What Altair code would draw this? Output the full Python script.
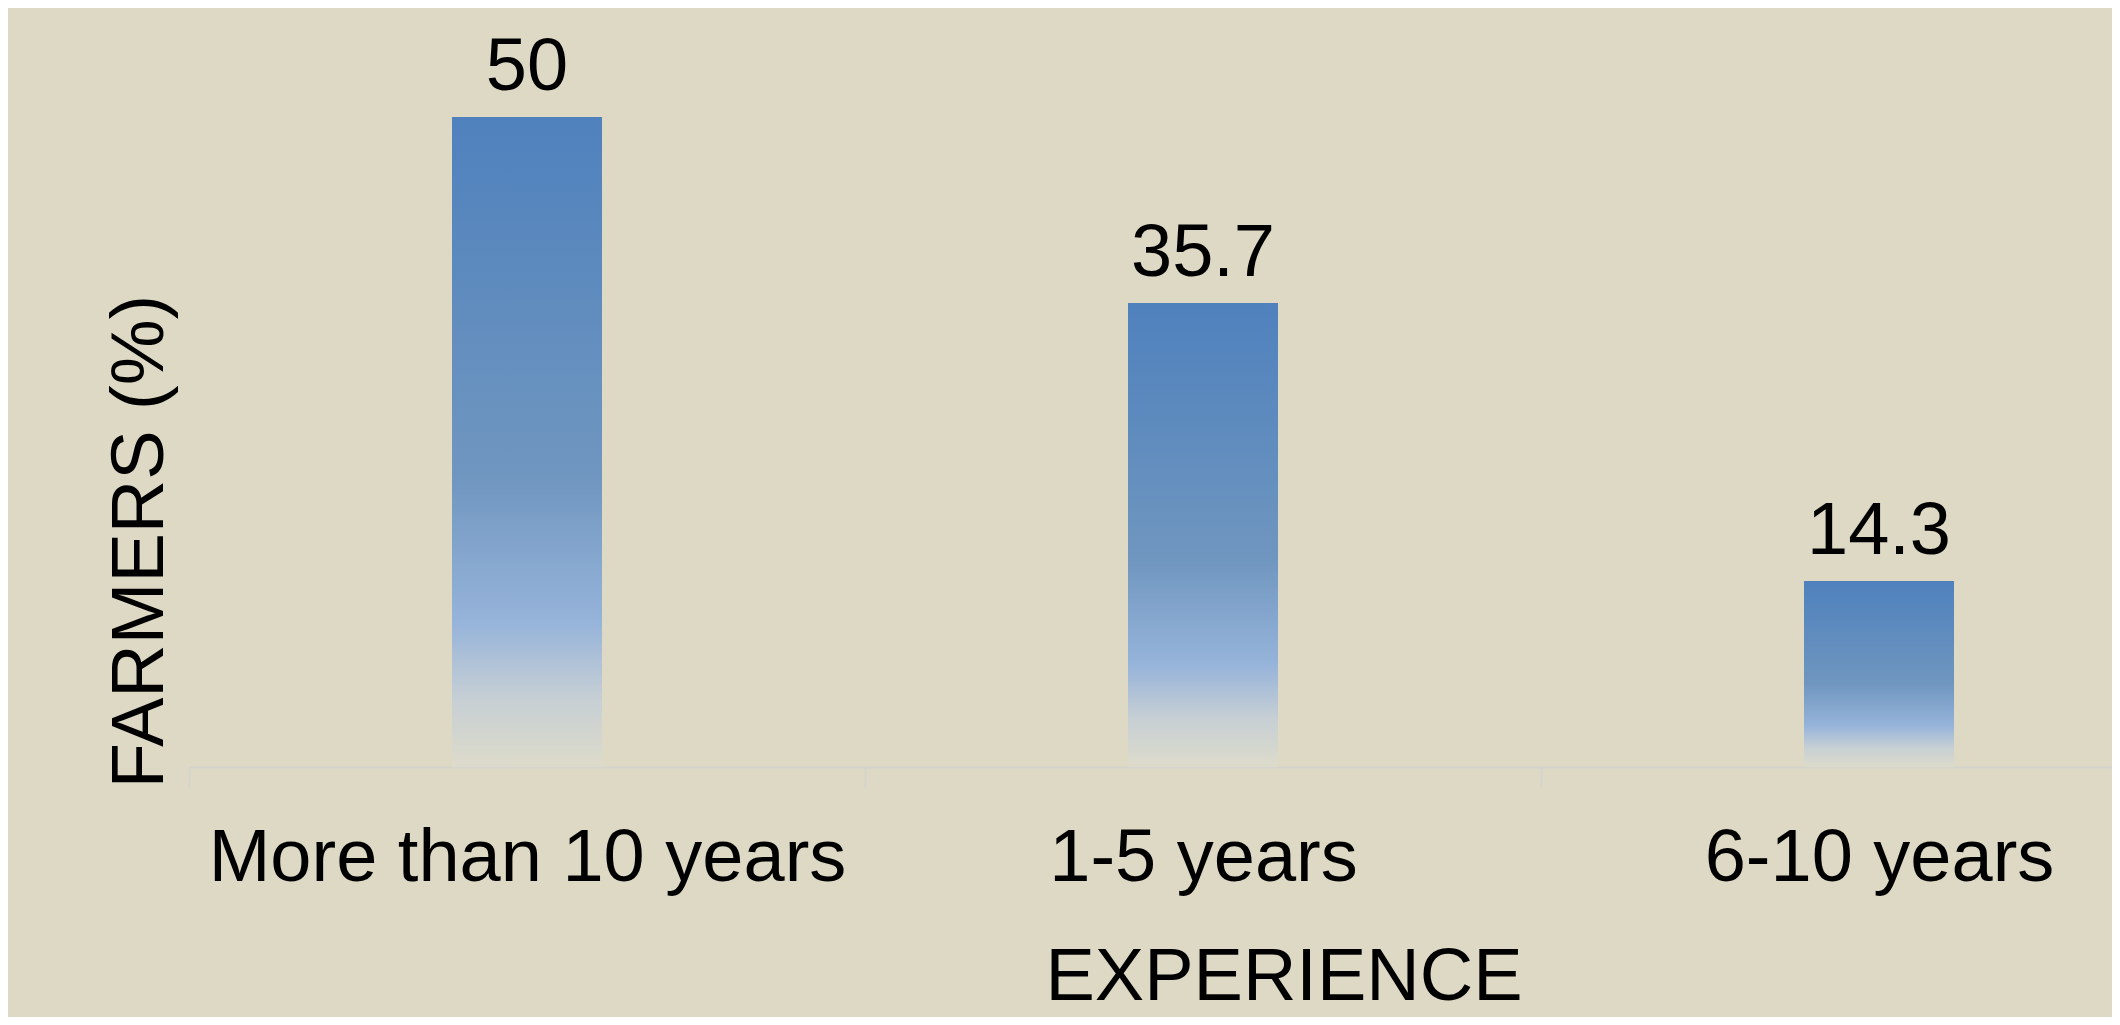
import altair as alt
import pandas as pd

categories = ["More than 10 years", "1-5 years", "6-10 years"]
values = [50, 35.7, 14.3]
labels = ["50", "35.7", "14.3"]

df = pd.DataFrame({"experience": categories, "farmers": values, "label": labels})

FONT = "Liberation Sans"
AXIS_COLOR = "#d4d4cc"

x_enc = alt.X(
    "experience:N",
    sort=categories,
    scale=alt.Scale(range=[0, 2028], paddingInner=0, paddingOuter=0),
    axis=alt.Axis(
        title="EXPERIENCE",
        titleFont=FONT,
        titleFontSize=74,
        titleFontWeight="normal",
        titleColor="#000000",
        titleAlign="left",
        titleBaseline="alphabetic",
        titleX=856,
        titleY=232,
        labelFont=FONT,
        labelFontSize=74,
        labelColor="#000000",
        labelAngle=0,
        labelBaseline="alphabetic",
        labelPadding=93,
        labelOverlap=False,
        labelLimit=0,
        domainColor=AXIS_COLOR,
        domainWidth=2,
        tickColor=AXIS_COLOR,
        tickWidth=2,
        tickSize=20,
        tickBand="extent",
        grid=False,
    ),
)

y_enc = alt.Y(
    "farmers:Q",
    scale=alt.Scale(domain=[0, 54], nice=False, zero=True),
    axis=alt.Axis(
        title="FARMERS (%)",
        titleFont=FONT,
        titleFontSize=74,
        titleFontWeight="normal",
        titleColor="#000000",
        titleAngle=270,
        titleAlign="center",
        titleBaseline="alphabetic",
        titleX=-27,
        titleY=476,
        labels=False,
        ticks=False,
        domain=False,
        grid=False,
    ),
)

gradient = alt.Gradient(
    gradient="linear",
    stops=[
        alt.GradientStop(color="#4f81bd", offset=0),
        alt.GradientStop(color="#6f96bf", offset=0.55),
        alt.GradientStop(color="#97b4da", offset=0.78),
        alt.GradientStop(color="#c8d0d4", offset=0.9),
        alt.GradientStop(color="#dddbcb", offset=1),
    ],
    x1=0, x2=0, y1=0, y2=1,
)

bars = alt.Chart(df).mark_bar(color=gradient, width=150).encode(x=x_enc, y=y_enc)

text = alt.Chart(df).mark_text(
    font=FONT, fontSize=74, color="#000000", baseline="alphabetic", dy=-27
).encode(x=alt.X("experience:N", sort=categories), y="farmers:Q", text="label:N")

chart = (
    alt.layer(bars, text)
    .properties(
        width=1923,
        height=702,
        autosize=alt.AutoSizeParams(type="none"),
        padding={"left": 181, "top": 57, "right": 0, "bottom": 250},
        background="#ddd9c4",
    )
    .configure_view(stroke=None)
)

chart.save("out.html", embed_options={"renderer": "svg", "actions": False})
